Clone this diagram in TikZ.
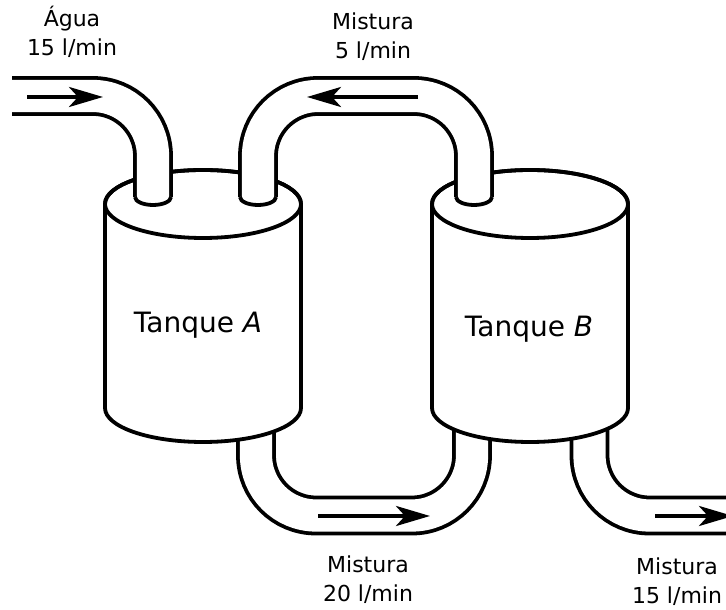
\documentclass[tikz,border=0pt]{standalone}
\usepackage{fontspec}
\setmainfont{DejaVu Sans}
\usetikzlibrary{arrows.meta}

\begin{document}
\begin{tikzpicture}[
  x=0.5pt, y=0.5pt,
  line width=1.9pt,
  pipe/.style={draw=black, double=white, double distance=16.1pt, rounded corners=30pt},
  flow/.style={-{Stealth[length=17pt, width=10pt, inset=4.5pt]}, line width=2pt},
  tag/.style={align=center, font=\fontsize{11}{14.5}\selectfont, inner sep=0pt},
  tanklabel/.style={font=\fontsize{14}{16}\selectfont, inner sep=0pt}
]
\clip (0,0) rectangle (726,609);

% pipes leaving the tanks at the bottom
\draw[pipe] (256,229) -- (256,93.5) -- (472,93.5) -- (472,229);
\draw[pipe] (589.5,229) -- (589.5,93.5) -- (760,93.5);

% the two tanks
\foreach \cx in {203,530} {
  \draw[fill=white] (\cx-98,405) -- (\cx-98,201)
    arc[start angle=180, end angle=360, x radius=98, y radius=34]
    -- (\cx+98,405)
    arc[start angle=0, end angle=180, x radius=98, y radius=34] -- cycle;
  \draw (\cx,405) ellipse [x radius=98, y radius=34];
}
\node[tanklabel] (tankA) at (198,284) {Tanque \textit{A}};
\node[tanklabel] (tankB) at (529,280) {Tanque \textit{B}};

% pipes entering from above
\draw[pipe] (12,513) -- (153,513) -- (153,412);
\draw[pipe] (258,412) -- (258,513) -- (474,513) -- (474,412);
\foreach \px in {153,258,474}
  \filldraw[fill=white] (\px-18,412)
    arc[start angle=180, end angle=360, x radius=18, y radius=8];

% flow directions
\draw[flow] (27,512) -- (103,512);
\draw[flow] (418,512) -- (307,512);
\draw[flow] (318,93) -- (430,93);
\draw[flow] (655,93) -- (733,93);

\node[tag] (agua) at (72,577) {Água\\15 l/min};
\node[tag] (mixAB) at (373,572) {Mistura\\5 l/min};
\node[tag] (mixBA) at (368,29) {Mistura\\20 l/min};
\node[tag] (mixOut) at (677,27) {Mistura\\15 l/min};

\end{tikzpicture}
\end{document}
